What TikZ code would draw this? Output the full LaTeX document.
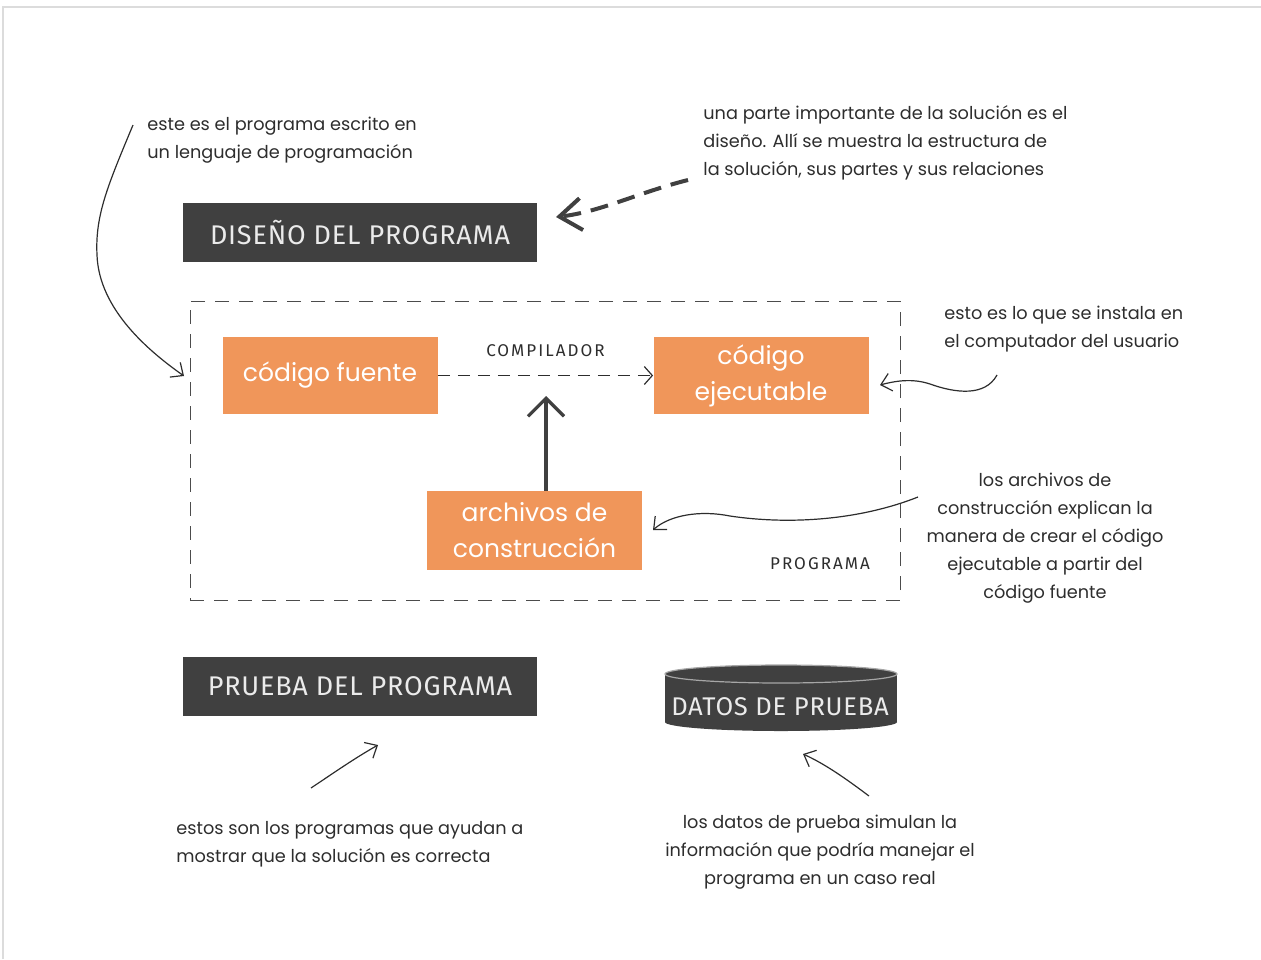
\documentclass[tikz,border=0pt]{standalone}
\usepackage{fontspec}
\setmainfont{Poppins}
\newfontfamily\titlefont{Fira Sans}[LetterSpace=3]
\newfontfamily\tagfont{Fira Sans}[LetterSpace=12]
\usetikzlibrary{arrows.meta,calc}
\definecolor{darkbox}{RGB}{64,64,64}
\definecolor{orangebox}{RGB}{240,150,90}
\definecolor{inkgray}{RGB}{45,45,45}
\definecolor{framegray}{RGB}{220,220,220}
\tikzstyle{titlebox} = [fill=darkbox, text=white!92!black, font=\titlefont\fontsize{13.5}{16}\selectfont, minimum width=177pt, minimum height=29.5pt, inner sep=0pt]
\tikzstyle{partbox} = [fill=orangebox, text=white, font=\fontsize{12.5}{18}\selectfont, align=center, inner sep=0pt, minimum width=107.5pt, minimum height=38.5pt]
\tikzstyle{programbox} = [draw=inkgray!85, line width=0.5pt, dash pattern=on 7pt off 5pt, minimum width=355pt, minimum height=149.5pt, inner sep=0pt]
\tikzstyle{notetext} = [text=inkgray, font=\fontsize{8.85}{14}\selectfont, inner sep=0pt]
\tikzstyle{tagtext} = [text=inkgray, font=\tagfont\fontsize{8.5}{10}\selectfont, inner sep=0pt]
\tikzstyle{pointer} = [draw=inkgray, line width=0.6pt, -{Straight Barb[length=5pt,width=9pt]}]
\tikzstyle{compilearrow} = [draw=inkgray, line width=0.6pt, dash pattern=on 6pt off 4pt, -{Straight Barb[length=4pt,width=9pt]}]
\tikzstyle{buildarrow} = [draw=darkbox, line width=1.6pt, -{Straight Barb[length=9pt,width=18pt]}]
\tikzstyle{designarrow} = [draw=darkbox, line width=2pt, dash pattern=on 9pt off 5pt, -{Straight Barb[length=11pt,width=16pt]}]

\begin{document}
\begin{tikzpicture}[x=0.5pt, y=-0.5pt]
\useasboundingbox (0,0) rectangle (1261,959);
% page frame
\draw[framegray, line width=1pt] (3,959) -- (3,7) -- (1261,7);

% main blocks
\node[titlebox] (diseno) at (360,232.5) {DISEÑO DEL PROGRAMA};
\node[programbox] (programa) at (545,450.5) {};
\node[tagtext] (programalabel) at (820,564) {PROGRAMA};
\node[partbox] (fuente) at (330,375.5) {código fuente};
\node[partbox] (ejecutable) at (761,375.5) {código\\ejecutable};
\node[partbox, minimum height=39.5pt] (archivos) at (534.5,530.5) {archivos de\\construcción};
\node[titlebox] (prueba) at (360,686.5) {PRUEBA DEL PROGRAMA};

% data store
\fill[darkbox] (665,674) rectangle (897,722);
\fill[darkbox] (781,722) ellipse [x radius=116, y radius=9];
\fill[darkbox] (781,674) ellipse [x radius=116, y radius=9];
\draw[gray!70, line width=0.6pt] (781,674) ellipse [x radius=116, y radius=9];
\node[titlebox, fill=none, minimum width=0pt, minimum height=0pt, font=\titlefont\fontsize{12.8}{16}\selectfont] (datos) at (780,707) {DATOS DE PRUEBA};

% notes
\node[notetext, anchor=west, align=left] (note1) at (147,140) {este es el programa escrito en\\un lenguaje de programación};
\node[notetext, anchor=west, align=left] (note2) at (703,143) {una parte importante de la solución es el\\diseño. Allí se muestra la estructura de\\la solución, sus partes y sus relaciones};
\node[notetext, anchor=west, align=left] (note3) at (944,329) {esto es lo que se instala en\\el computador del usuario};
\node[notetext, align=center] (note4) at (1045,538) {los archivos de\\construcción explican la\\manera de crear el código\\ejecutable a partir del\\código fuente};
\node[notetext, anchor=west, align=left] (note5) at (176,844) {estos son los programas que ayudan a\\mostrar que la solución es correcta};
\node[notetext, align=center] (note6) at (820,852) {los datos de prueba simulan la\\información que podría manejar el\\programa en un caso real};

% arrow ends
\coordinate (n1from) at (133,125);
\coordinate (n1to) at (184,376);
\coordinate (n2from) at (688,180);
\coordinate (n2to) at (556,217);
\coordinate (n3from) at (997,375);
\coordinate (n3to) at (880,385);
\coordinate (n4from) at (918,497);
\coordinate (n4to) at (653,530);
\coordinate (n5from) at (311,788);
\coordinate (n5to) at (378,745);
\coordinate (n6from) at (869,796);
\coordinate (n6to) at (803,754);
\coordinate (buildtip) at (546,396);

% connectors
\draw[compilearrow] (fuente) -- node[tagtext, above=9pt] (compilador) {COMPILADOR} (ejecutable);
\draw[buildarrow] (archivos.north -| buildtip) -- (buildtip);
\draw[designarrow] (n2from) .. controls (640,192) and (600,212) .. (n2to);
\draw[pointer] (n1from) .. controls (108,185) and (95,215) .. (97,255) .. controls (99,310) and (150,352) .. (n1to);
\draw[pointer] (n3from) .. controls (985,397) and (955,393) .. (930,384) .. controls (912,378) and (895,381) .. (n3to);
\draw[pointer] (n4from) .. controls (860,520) and (790,525) .. (730,516) .. controls (700,510) and (670,515) .. (n4to);
\draw[pointer] (n5from) .. controls (335,772) and (355,758) .. (n5to);
\draw[pointer] (n6from) .. controls (845,778) and (825,764) .. (n6to);
\end{tikzpicture}
\end{document}
